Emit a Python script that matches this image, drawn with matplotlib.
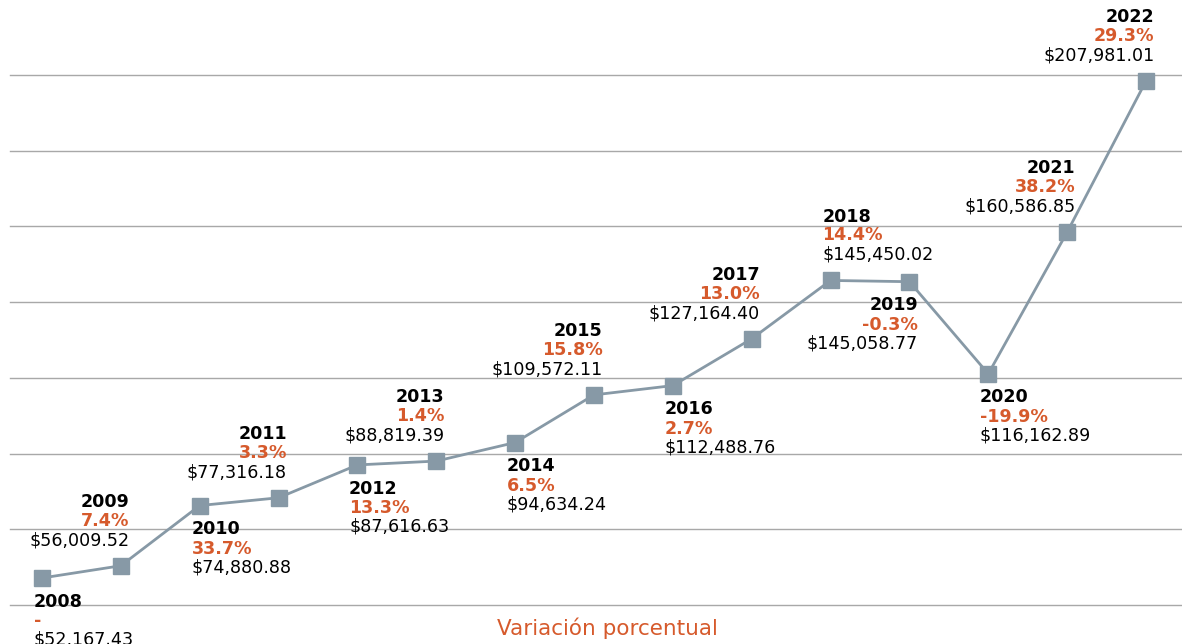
import matplotlib.pyplot as plt

years = list(range(2008, 2023))
values = [52167.43, 56009.52, 74880.88, 77316.18, 87616.63, 88819.39, 94634.24,
          109572.11, 112488.76, 127164.40, 145450.02, 145058.77, 116162.89,
          160586.85, 207981.01]
pct_labels = ['-', '7.4%', '33.7%', '3.3%', '13.3%', '1.4%', '6.5%', '15.8%',
              '2.7%', '13.0%', '14.4%', '-0.3%', '-19.9%', '38.2%', '29.3%']
# label placement: 'a' above / 'b' below, and horizontal alignment
positions = ['b', 'a', 'b', 'a', 'b', 'a', 'b', 'a', 'b', 'a', 'a', 'b', 'b', 'a', 'a']
aligns = ['left', 'right', 'left', 'right', 'left', 'right', 'left', 'right',
          'left', 'right', 'left', 'right', 'left', 'right', 'right']
grid_vals = [43700 + k * 23737 for k in range(8)]

orange = '#D65A2C'
line_col = '#8799A6'

W, H = 1182, 644
fig = plt.figure(figsize=(W / 100, H / 100), dpi=100)
ax = fig.add_axes([10 / W, (H - 605) / H, 1 - 10 / W, (605 - 75) / H])

ax.plot(years, values, color=line_col, lw=2, marker='s', ms=11.5,
        mec=line_col, mfc=line_col, clip_on=False, zorder=3)

ax.set_xlim(2008 - 32 / 78.86, 2022 + 36 / 78.86)
ax.set_ylim(grid_vals[0], grid_vals[-1])
ax.set_xticks([])
ax.set_yticks([])
for g in grid_vals:
    ax.axhline(g, color='#A8A8A8', lw=1, clip_on=False, zorder=1)
for s in ax.spines.values():
    s.set_visible(False)

for yr, v, p, pos, ha in zip(years, values, pct_labels, positions, aligns):
    dx = -6 if ha == 'left' else 6
    if pos == 'a':
        offs = [-46, -32.5, -18.5]
    else:
        offs = [17, 31, 44.5]
    kw = dict(xycoords='data', textcoords='offset points', ha=ha, va='center',
              fontsize=12.6, annotation_clip=False)
    lines = [(str(yr), 'bold', 'black'), (p, 'bold', orange),
             ('$' + f'{v:,.2f}', 'normal', 'black')]
    for (txt, fw, col), o in zip(lines, offs):
        ax.annotate(txt, (yr, v), xytext=(dx, -o), fontweight=fw, color=col, **kw)

fig.text(607 / W, 1 - 628 / H, 'Variación porcentual', color=orange,
         fontsize=15.5, ha='center', va='center')

fig.savefig('out.png', dpi=100)
